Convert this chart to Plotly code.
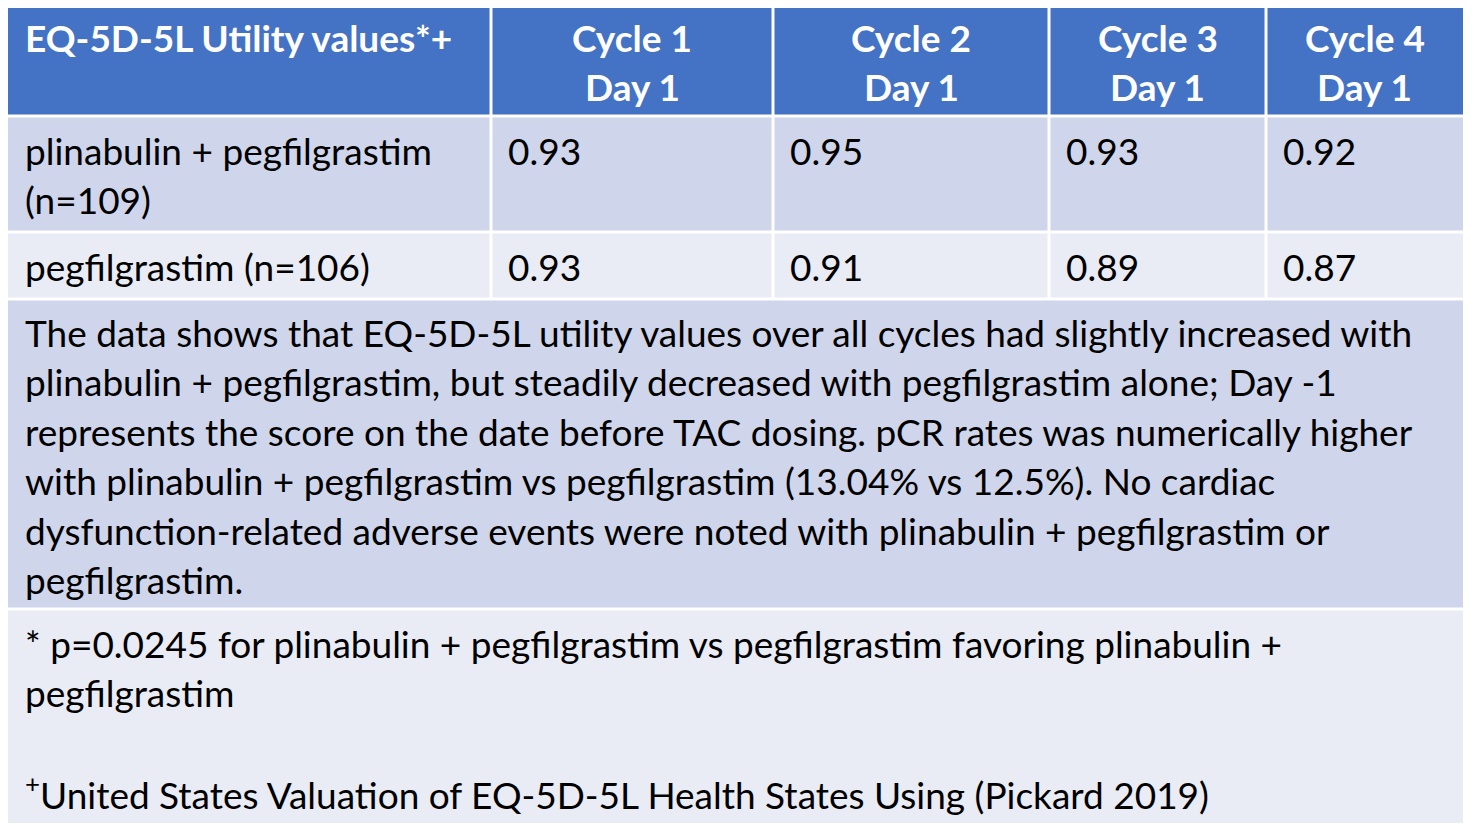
import plotly.graph_objects as go

W, H = 1474, 832
FONT = "Lato"
SIZE = 37

header_first = "EQ-5D-5L Utility values*+"
cycles = ["Cycle 1", "Cycle 2", "Cycle 3", "Cycle 4"]
day_label = "Day 1"
groups = [["plinabulin + pegfilgrastim", "(n=109)"], ["pegfilgrastim (n=106)"]]
values = [["0.93", "0.95", "0.93", "0.92"], ["0.93", "0.91", "0.89", "0.87"]]
summary_lines = [
    "The data shows that EQ-5D-5L utility values over all cycles had slightly increased with",
    "plinabulin + pegfilgrastim, but steadily decreased with pegfilgrastim alone; Day -1",
    "represents the score on the date before TAC dosing. pCR rates was numerically higher",
    "with plinabulin + pegfilgrastim vs pegfilgrastim (13.04% vs 12.5%). No cardiac",
    "dysfunction-related adverse events were noted with plinabulin + pegfilgrastim or",
    "pegfilgrastim.",
]
foot_lines = [
    "* p=0.0245 for plinabulin + pegfilgrastim vs pegfilgrastim favoring plinabulin +",
    "pegfilgrastim",
    "",
    "<sup>+</sup>United States Valuation of EQ-5D-5L Health States Using (Pickard 2019)",
]

col_edges = [8, 491, 773, 1049, 1266, 1463]
row_edges = [5, 116, 232, 299, 609, 823]
row_fill = ["#4472C4", "#CFD5EA", "#E9EBF5", "#CFD5EA", "#E9EBF5"]
gap = 3
line_h = 49.5
pad = 15
off = 8  # page body margin

fig = go.Figure()
shapes, ann = [], []

def txt(x, y, s, color="black", anchor="left", bold=False):
    ann.append(dict(x=x, y=y, text=f"<b>{s}</b>" if bold else s, showarrow=False,
                    xanchor=anchor, yanchor="middle",
                    font=dict(family=FONT, size=SIZE, color=color)))

def rect(x0, x1, y0, y1, c):
    shapes.append(dict(type="rect", x0=x0, x1=x1, y0=y0, y1=y1, fillcolor=c,
                       line=dict(width=0), layer="below"))

for r in range(3):
    for c in range(5):
        x0 = col_edges[c] + (gap / 2 if c else 0)
        x1 = col_edges[c + 1] - (gap / 2 if c < 4 else 0)
        rect(x0, x1, row_edges[r] + (gap / 2 if r else 0), row_edges[r + 1] - gap / 2, row_fill[r])
for r in (3, 4):
    rect(col_edges[0], col_edges[-1], row_edges[r] + gap / 2,
         row_edges[r + 1] - (gap / 2 if r < 4 else 0), row_fill[r])

y_top = row_edges[0] + 32
txt(col_edges[0] + pad, y_top, header_first, "white", bold=True)
for i, cy in enumerate(cycles):
    xc = (col_edges[i + 1] + col_edges[i + 2]) / 2
    txt(xc, y_top, cy, "white", "center", True)
    txt(xc, y_top + line_h, day_label, "white", "center", True)

for r, (g, vals) in enumerate(zip(groups, values)):
    y0 = row_edges[r + 1] + 34
    for k, line in enumerate(g):
        txt(col_edges[0] + pad, y0 + k * line_h, line)
    for i, v in enumerate(vals):
        txt(col_edges[i + 1] + pad, y0, v)

for k, line in enumerate(summary_lines):
    txt(col_edges[0] + pad, row_edges[3] + 33 + k * line_h, line)
for k, line in enumerate(foot_lines):
    if line:
        txt(col_edges[0] + pad, row_edges[4] + 34 + k * line_h, line)

fig.update_layout(
    width=W, height=H, margin=dict(l=0, r=0, t=0, b=0),
    paper_bgcolor="white", plot_bgcolor="white",
    shapes=shapes, annotations=ann, showlegend=False,
    xaxis=dict(range=[off, W + off], visible=False, fixedrange=True),
    yaxis=dict(range=[H + off, off], visible=False, fixedrange=True),
)
fig.write_html("out.html")
